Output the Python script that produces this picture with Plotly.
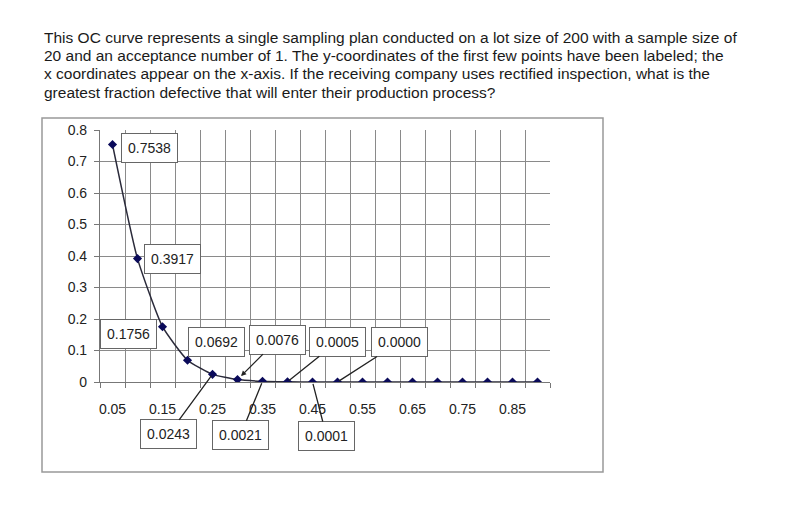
import plotly.graph_objects as go

# fraction defective (categories) and probability of acceptance
p_defective = [0.05, 0.10, 0.15, 0.20, 0.25, 0.30, 0.35, 0.40, 0.45,
               0.50, 0.55, 0.60, 0.65, 0.70, 0.75, 0.80, 0.85, 0.90]
p_accept = [0.7538, 0.3917, 0.1756, 0.0692, 0.0243, 0.0076, 0.0021, 0.0005, 0.0001,
            0.0, 0.0, 0.0, 0.0, 0.0, 0.0, 0.0, 0.0, 0.0]
label_text = ["0.7538", "0.3917", "0.1756", "0.0692", "0.0243",
              "0.0076", "0.0021", "0.0005", "0.0001", "0.0000"]
x_tick_vals = [0.05, 0.15, 0.25, 0.35, 0.45, 0.55, 0.65, 0.75, 0.85]
x_tick_text = ["0.05", "0.15", "0.25", "0.35", "0.45", "0.55", "0.65", "0.75", "0.85"]

question = [
    "This OC curve represents a single sampling plan conducted on a lot size of 200 with a sample size of",
    "20 and an acceptance number of 1. The y-coordinates of the first few points have been labeled; the",
    "x coordinates appear on the x-axis. If the receiving company uses rectified inspection, what is the",
    "greatest fraction defective that will enter their production process?",
]

# page is 789x516, the browser body adds an 8px margin
OFF = 8
W, H = 789 - OFF, 516 - OFF
L, R, T, B = 100, 550, 130, 382  # plot area in page pixels


def px(x):
    return (x - L) / (R - L)


def py(y):
    return (B - y) / (B - T)


half = 0.025
bounds = [v - half for v in p_defective] + [p_defective[-1] + half]

fig = go.Figure()
fig.add_trace(go.Scatter(
    x=p_defective, y=p_accept, mode="lines+markers",
    line=dict(color="#2a2a3a", width=1.5, shape="spline", smoothing=0.5),
    marker=dict(symbol="diamond", size=7, color="#0a0a5a"),
    hoverinfo="skip", showlegend=False,
))

font = "Liberation Sans, Arial, sans-serif"
box = dict(bgcolor="white", bordercolor="#666", borderwidth=1, borderpad=6,
           font=dict(family=font, size=14, color="#222"))

# labels sitting next to their point (xshift, yshift)
near = [(37, -3), (35, 0), (-34, -7), (29, 18)]
for i, (dx, dy) in enumerate(near):
    fig.add_annotation(x=p_defective[i], y=p_accept[i], text=label_text[i],
                       showarrow=False, xshift=dx, yshift=dy, **box)

# call-out labels with leader lines (ax, ay in pixels, arrowhead)
callouts = [(-44, 60, 0), (40, -40, 2), (-22, 54, 0), (50, -40, 0), (14, 54, 0), (62, -40, 0)]
for k, (ax, ay, head) in enumerate(callouts):
    i = 4 + k
    fig.add_annotation(x=p_defective[i], y=p_accept[i], text=label_text[i],
                       showarrow=True, ax=ax, ay=ay, arrowhead=head, arrowsize=0.8,
                       arrowwidth=1.3, arrowcolor="#222", standoff=5 if head else 2, **box)

for j, line in enumerate(question):
    fig.add_annotation(xref="paper", yref="paper", x=px(42), y=py(38 + 18 * j),
                       xanchor="left", yanchor="middle", showarrow=False, text=line,
                       font=dict(family="Liberation Sans, Arial, sans-serif",
                                 size=15.5, color="#1a1a1a"))

# chart area border
fig.add_shape(type="rect", xref="paper", yref="paper",
              x0=px(42), x1=px(603), y0=py(472), y1=py(118),
              line=dict(color="#999", width=1.5), fillcolor="rgba(0,0,0,0)")

fig.update_layout(
    width=W, height=H,
    margin=dict(l=L - OFF, r=789 - R, t=T - OFF, b=516 - B),
    paper_bgcolor="white", plot_bgcolor="white",
    font=dict(family=font, size=14, color="#222"),
)
fig.update_xaxes(
    range=[bounds[0], bounds[-1]], tickvals=x_tick_vals, ticktext=x_tick_text,
    showgrid=False, ticks="", ticklabelstandoff=14, zeroline=False,
    showline=True, linecolor="#777", linewidth=1.2,
    minor=dict(tickvals=bounds, showgrid=True, gridcolor="#8a8a8a", gridwidth=1,
               ticks="outside", ticklen=5, tickcolor="#777"),
)
fig.update_yaxes(
    range=[0, 0.8], dtick=0.1, tickformat=".1~f",
    showgrid=True, gridcolor="#8a8a8a", gridwidth=1, zeroline=False,
    showline=True, linecolor="#777", linewidth=1.2,
    ticks="outside", ticklen=5, tickcolor="#777", ticklabelstandoff=4,
)

fig.write_html("out.html")
